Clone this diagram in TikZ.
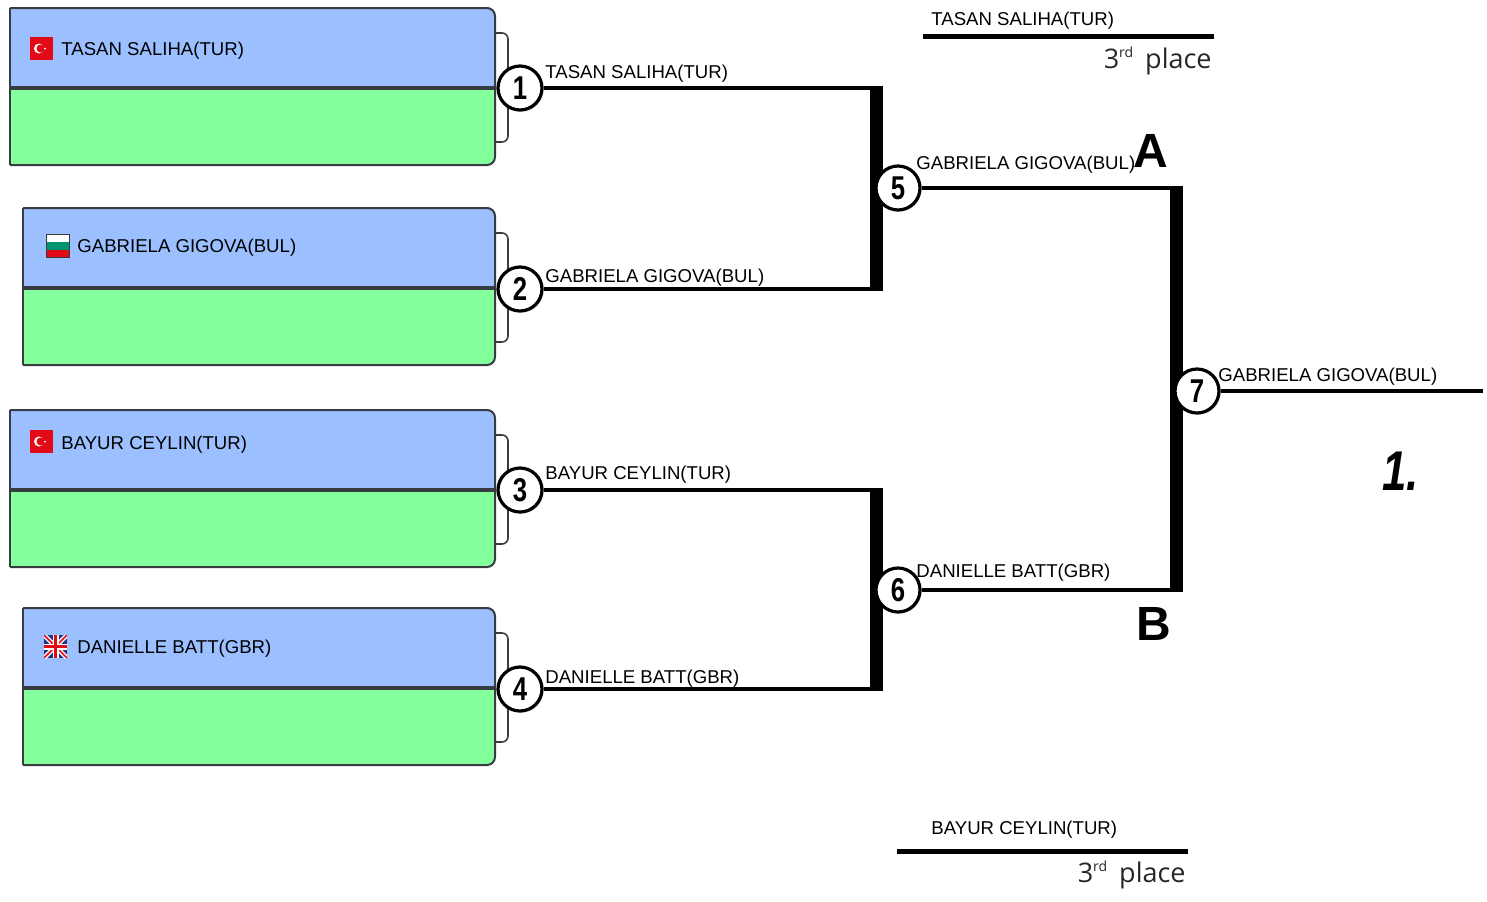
\documentclass[tikz,border=0pt]{standalone}
\usepackage{fontspec}
\usetikzlibrary{shadows}
\setmainfont{Liberation Sans}
\newfontfamily\placefont{Open Sans}
\newfontfamily\digitfont[FakeStretch=0.78]{Liberation Sans}
\definecolor{topblue}{RGB}{155,191,255}
\definecolor{lowgreen}{RGB}{131,255,156}
\definecolor{boxedge}{RGB}{55,60,66}
\definecolor{flagred}{RGB}{227,10,23}
\definecolor{ukblue}{RGB}{40,50,130}
\definecolor{bulgreen}{RGB}{0,150,110}

\begin{document}
\begin{tikzpicture}[x=0.5pt,y=-0.5pt,
    entry/.style={font=\fontsize{9.3}{11}\selectfont,anchor=base west,inner sep=0pt},
    match/.style={circle,draw,line width=1.6pt,fill=white,minimum size=22pt,inner sep=0pt,
      drop shadow={shadow xshift=0.8pt,shadow yshift=-0.8pt,opacity=0.35},
      font=\digitfont\bfseries\fontsize{16.5}{16.5}\selectfont},
    wire/.style={line width=2pt},
    post/.style={line width=6.5pt},
    podium/.style={line width=2.5pt},
    placetext/.style={anchor=base east,inner sep=0pt,text=black!85,font=\placefont\fontsize{13.5}{13.5}\selectfont}]
  \useasboundingbox (0,0) rectangle (1487,901);
  % entry boxes
  \foreach \lx/\ty in {10/8,23/208,10/410,23/608}{
    \begin{scope}
      \clip[rounded corners=4pt] (\lx-12,\ty) rectangle (495,\ty+157);
      \fill[topblue] (\lx,\ty) rectangle (495,\ty+80);
      \fill[lowgreen] (\lx,\ty+80) rectangle (495,\ty+157);
    \end{scope}
    \draw[boxedge,line width=1pt,rounded corners=4pt] (\lx,\ty) -- (495,\ty) -- (495,\ty+157) -- (\lx,\ty+157);
    \draw[boxedge,line width=0.8pt] (\lx,\ty) -- (\lx,\ty+157);
    \draw[boxedge,line width=2pt] (\lx,\ty+80) -- (495,\ty+80);
    \draw[boxedge,line width=0.8pt,rounded corners=3pt] (495,\ty+25) -- (508,\ty+25) -- (508,\ty+134) -- (495,\ty+134);
  }
  % flags
  \foreach \fy in {37,430}{
    \fill[flagred] (30,\fy) rectangle (53,\fy+23);
    \fill[white] (39,\fy+11.5) circle (5);
    \fill[flagred] (40.5,\fy+11.5) circle (4);
    \fill[white] (45,\fy+11.5) circle (1);
  }
  \fill[white] (46,234) rectangle (69,242);
  \fill[bulgreen] (46,242) rectangle (69,249.5);
  \fill[flagred] (46,249.5) rectangle (69,257);
  \draw[boxedge,line width=0.4pt] (46,234) rectangle (69,257);
  \begin{scope}
    \clip (44,635) rectangle (67,658);
    \fill[ukblue] (44,635) rectangle (67,658);
    \draw[white,line width=2.2pt] (44,635) -- (67,658) (44,658) -- (67,635);
    \draw[flagred,line width=0.8pt] (44,635) -- (67,658) (44,658) -- (67,635);
    \draw[white,line width=3pt] (55.5,635) -- (55.5,658) (44,646.5) -- (67,646.5);
    \draw[flagred,line width=1.8pt] (55.5,635) -- (55.5,658) (44,646.5) -- (67,646.5);
  \end{scope}
  \node[entry] (e1) at (61,55) {TASAN SALIHA(TUR)};
  \node[entry] (e2) at (77,252) {GABRIELA GIGOVA(BUL)};
  \node[entry] (e3) at (61,449) {BAYUR CEYLIN(TUR)};
  \node[entry] (e4) at (77,653) {DANIELLE BATT(GBR)};

  % bracket corners and posts
  \coordinate (c1) at (876,88);
  \coordinate (c2) at (876,289);
  \coordinate (c3) at (876,490);
  \coordinate (c4) at (876,689);
  \coordinate (c5) at (1176,188);
  \coordinate (c6) at (1176,590);
  \coordinate (fin) at (1483,391);
  \draw[post] ([yshift=1pt]c1) -- ([yshift=-1pt]c2);
  \draw[post] ([yshift=1pt]c3) -- ([yshift=-1pt]c4);
  \draw[post] ([yshift=1pt]c5) -- ([yshift=-1pt]c6);

  % matches
  \node[match] (m1) at (520,88) {1};
  \node[match] (m2) at (520,289) {2};
  \node[match] (m3) at (520,490) {3};
  \node[match] (m4) at (520,689) {4};
  \node[match] (m5) at (898,188) {5};
  \node[match] (m6) at (898,590) {6};
  \node[match] (m7) at (1197,391) {7};

  \draw[wire] (m1) -- (m1 -| c1);
  \draw[wire] (m2) -- (m2 -| c2);
  \draw[wire] (m3) -- (m3 -| c3);
  \draw[wire] (m4) -- (m4 -| c4);
  \draw[wire] (m5) -- (m5 -| c5);
  \draw[wire] (m6) -- (m6 -| c6);
  \draw[wire] (m7) -- (fin);

  \node[entry] (w1) at (545,78) {TASAN SALIHA(TUR)};
  \node[entry] (w2) at (545,282) {GABRIELA GIGOVA(BUL)};
  \node[entry] (w3) at (545,479) {BAYUR CEYLIN(TUR)};
  \node[entry] (w4) at (545,683) {DANIELLE BATT(GBR)};
  \node[entry] (w5) at (916,169) {GABRIELA GIGOVA(BUL)};
  \node[entry] (w6) at (916,577) {DANIELLE BATT(GBR)};
  \node[entry] (w7) at (1218,381) {GABRIELA GIGOVA(BUL)};

  \node[anchor=base,inner sep=0pt,font=\bfseries\fontsize{24}{24}\selectfont] (semiA) at (1151,167) {A};
  \node[anchor=base,inner sep=0pt,font=\bfseries\fontsize{24}{24}\selectfont] (semiB) at (1154,640) {B};
  \node[anchor=base west,inner sep=0pt,font=\digitfont\bfseries\itshape\fontsize{28}{28}\selectfont] (first) at (1382,490) {1.};

  % third places
  \node[entry] (t1) at (931,25) {TASAN SALIHA(TUR)};
  \coordinate (p1a) at (923,36);
  \coordinate (p1b) at (1214,36);
  \draw[podium] (p1a) -- (p1b);
  \node[placetext] (r1) at (1212,68) {3\raisebox{5.5pt}{\fontsize{7}{7}\selectfont rd}\hspace{6pt}place};
  \node[entry] (t2) at (931,834) {BAYUR CEYLIN(TUR)};
  \coordinate (p2a) at (897,851);
  \coordinate (p2b) at (1188,851);
  \draw[podium] (p2a) -- (p2b);
  \node[placetext] (r2) at (1186,882) {3\raisebox{5.5pt}{\fontsize{7}{7}\selectfont rd}\hspace{6pt}place};
\end{tikzpicture}
\end{document}
